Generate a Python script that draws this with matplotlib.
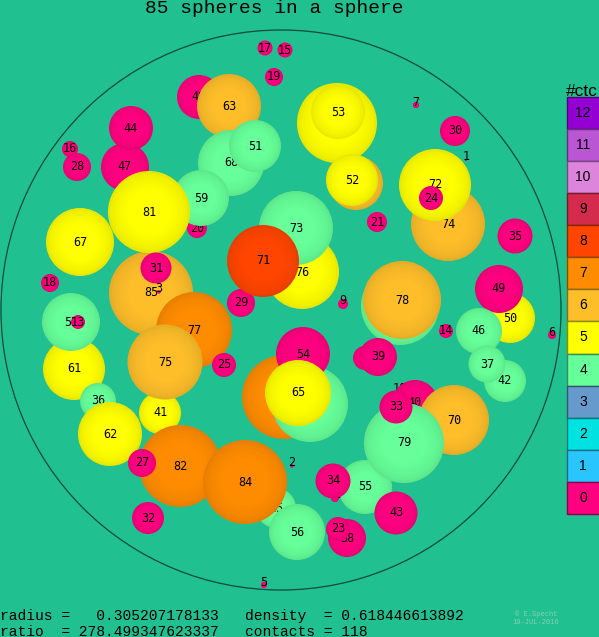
import matplotlib
matplotlib.use("Agg")
import matplotlib.pyplot as plt
from matplotlib.patches import Circle, Rectangle
from matplotlib.colors import to_rgb

# spheres in drawing order (back to front), image pixel coordinates
labels = ["80", "53", "17", "15", "19", "48", "63", "68", "51", "20",
          "59", "47", "44", "16", "28", "67", "85", "81", "31", "3",
          "77", "41", "75", "29", "25", "18", "61", "57", "13", "36",
          "62", "82", "27", "45", "84", "56", "32", "2", "5", "76",
          "73", "71", "9", "21", "58", "52", "7", "30", "1", "74",
          "72", "24", "35", "50", "49", "46", "42", "37", "14", "6",
          "69", "78", "26", "39", "83", "66", "54", "65", "10", "40",
          "70", "55", "79", "33", "11", "34", "43", "38", "23"]
xs = [337, 338, 265, 285, 274, 199, 229, 231, 255, 197,
      201, 125, 131, 70, 77, 80, 151, 149, 156, 159,
      194, 160, 165, 241, 224, 50, 74, 71, 78, 98,
      110, 180, 142, 276, 245, 297, 148, 292, 264, 302,
      296, 263, 343, 377, 356, 352, 416, 455, 466, 448,
      435, 431, 515, 510, 499, 479, 505, 487, 446, 552,
      400, 402, 365, 378, 284, 310, 303, 298, 400, 415,
      454, 365, 404, 396, 335, 333, 396, 347, 338]
ys = [123, 112, 48, 50, 77, 97, 106, 163, 146, 228,
      198, 167, 128, 149, 167, 242, 293, 212, 268, 292,
      330, 413, 362, 303, 365, 283, 369, 322, 322, 401,
      434, 466, 463, 508, 482, 532, 518, 466, 585, 272,
      228, 261, 304, 222, 183, 180, 105, 131, 160, 224,
      185, 198, 236, 318, 289, 331, 381, 364, 331, 335,
      306, 300, 358, 357, 397, 404, 354, 393, 391, 403,
      420, 487, 443, 407, 498, 481, 513, 538, 529]
rads = [40, 27, 7.5, 7.5, 9, 22, 32, 33, 26, 10,
        28, 24, 22, 8, 14, 34, 42, 41, 15.5, 1.5,
        38, 21, 37.5, 14, 12, 9, 31, 29, 7, 18,
        32, 41, 14, 20, 42, 28, 16, 1.5, 3, 37,
        37, 36, 5, 10, 27, 26, 3, 15, 1, 37,
        36, 12, 17.5, 25, 24, 23, 21, 18.5, 7, 4,
        39, 39, 12, 19, 42, 38, 27, 33, 1.5, 23,
        35, 27, 40, 16.5, 4, 17.5, 21.5, 19, 12]
ctc = [5, 5, 0, 0, 0, 0, 6, 4, 4, 0,
       4, 0, 0, 0, 0, 5, 6, 5, 0, 0,
       7, 5, 6, 0, 0, 0, 5, 4, 0, 4,
       5, 7, 0, 4, 7, 4, 0, 0, 0, 5,
       4, 8, 0, 0, 6, 5, 0, 0, 0, 6,
       5, 0, 0, 5, 0, 4, 4, 4, 0, 0,
       4, 6, 0, 0, 7, 4, 0, 5, 0, 0,
       6, 4, 4, 0, 0, 0, 0, 0, 0]

# contact-number colour scale
ctc_levels = [12, 11, 10, 9, 8, 7, 6, 5, 4, 3, 2, 1, 0]
ctc_colors = ["#9400D3", "#BA55D3", "#DD85DD", "#D42B4D", "#FF4500", "#FF8C00",
              "#FDBE2A", "#FFFF00", "#66FF99", "#6699CC", "#00E2E2", "#29C5FF", "#FF0080"]

BG = "#21C091"
W, H = 599, 637
cx, cy, R = 281, 310, 280


def shade(c, f):
    r, g, b = to_rgb(c)
    return (r * f, g * f, b * f)


fig = plt.figure(figsize=(W / 100, H / 100), dpi=100, facecolor=BG)
ax = fig.add_axes([0, 0, 1, 1])
ax.set_facecolor(BG)
ax.set_xlim(0, W)
ax.set_ylim(H, 0)
ax.set_aspect("equal")
ax.axis("off")

ax.add_patch(Circle((cx, cy), R, fill=False, ec="#114a3a", lw=0.9, zorder=1))

cmap = dict(zip(ctc_levels, ctc_colors))
n_layers = 8
z = 2
for lab, x, y, r, c in zip(labels, xs, ys, rads, ctc):
    col = cmap[c]
    for i in range(n_layers):
        t = i / (n_layers - 1)
        ax.add_patch(Circle((x, y), r * (1 - 0.45 * t), fc=shade(col, 0.91 + 0.09 * t ** 0.6),
                            ec="none", zorder=z))
        z += 1
    ty = y - 3 if r < 6 else y
    ax.text(x, ty, lab, ha="center", va="center", fontsize=8.5,
            family="DejaVu Sans Mono", color="black", zorder=z)
    z += 1

# legend
ax.text(566, 91, "#ctc", ha="left", va="center", fontsize=12.5,
        family="Liberation Sans", color="black")
top, bh, bx, bw = 96.7, 32.1, 567, 34
for i, (lv, col) in enumerate(zip(ctc_levels, ctc_colors)):
    y0 = top + i * bh
    ax.add_patch(Rectangle((bx, y0), bw, bh, fc=col, ec=shade(col, 0.55), lw=1, zorder=z))
    ax.text(583, y0 + bh / 2, str(lv), ha="center", va="center", fontsize=10,
            family="Liberation Sans", color="black", zorder=z + 1)

ax.text(274, 13, "85 spheres in a sphere", ha="center", va="baseline", fontsize=14,
        family="Liberation Mono", color="black")
ax.text(0, 616, "radius =   0.305207178133   density  = 0.618446613892", ha="left",
        va="center", fontsize=10.5, family="Liberation Mono", color="black")
ax.text(0, 632, "ratio  = 278.499347623337   contacts = 118", ha="left",
        va="center", fontsize=10.5, family="Liberation Mono", color="black")
ax.text(536, 614, "© E.Specht", ha="center", va="center", fontsize=5,
        family="Liberation Mono", color="#8ccfb4")
ax.text(536, 623, "19-JUL-2016", ha="center", va="center", fontsize=5,
        family="Liberation Mono", color="#8ccfb4")

fig.savefig("out.png", dpi=100, facecolor=BG)
